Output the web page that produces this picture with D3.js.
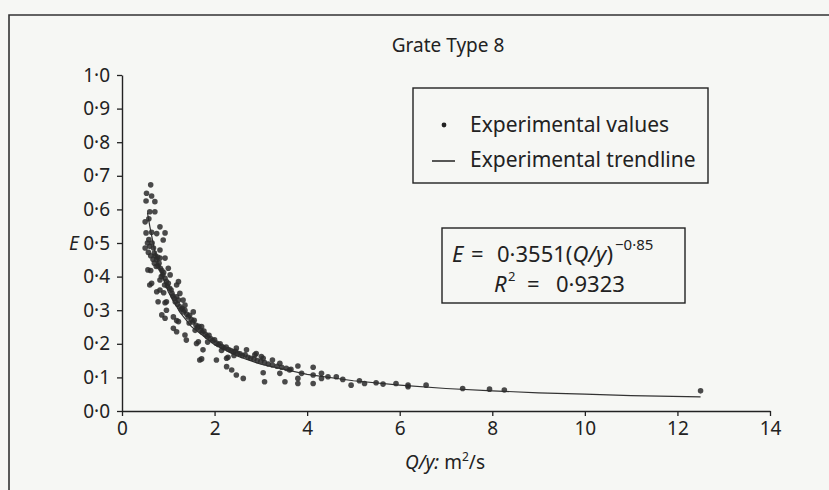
<!DOCTYPE html>
<html>
<head>
<meta charset="utf-8">
<script src="https://cdn.jsdelivr.net/npm/d3@7"></script>
<style>
  html, body { margin: 0; padding: 0; background: #f6f7f4; }
  svg { display: block; font-family: "Noto Sans", "Open Sans", sans-serif; }
</style>
</head>
<body>
<div id="chart"></div>
<script>
// Chart values
const chartTitle = "Grate Type 8";
const xTicks = [0, 2, 4, 6, 8, 10, 12, 14];
const yTicks = [0, 0.1, 0.2, 0.3, 0.4, 0.5, 0.6, 0.7, 0.8, 0.9, 1.0];

// Experimental values [Q/y, E]
const experimentalValues = [
  // upper cloud, Q/y < 1.05
  [0.62, 0.673], [0.53, 0.648], [0.64, 0.640], [0.71, 0.623], [0.52, 0.625],
  [0.60, 0.593], [0.71, 0.593], [0.50, 0.563], [0.58, 0.572], [0.82, 0.548],
  [0.52, 0.530], [0.64, 0.532], [0.75, 0.528], [0.93, 0.530], [0.89, 0.509],
  [0.50, 0.485], [0.82, 0.479], [0.57, 0.472], [0.62, 0.462], [0.67, 0.452],
  [0.93, 0.455], [0.78, 0.432], [1.00, 0.425], [0.56, 0.420], [0.62, 0.418],
  [1.04, 0.405], [0.82, 0.390], [0.60, 0.375], [0.64, 0.380], [0.75, 0.355],
  [0.90, 0.352], [0.78, 0.325], [0.82, 0.360], [0.96, 0.325], [0.86, 0.286],
  [0.93, 0.276], [0.82, 0.455], [0.55, 0.500], [0.58, 0.510], [0.60, 0.490],
  [0.93, 0.322],
  // dense band 0.6 - 1.3
  [0.65, 0.500], [0.68, 0.485], [0.70, 0.470], [0.72, 0.462], [0.75, 0.450],
  [0.77, 0.458], [0.80, 0.440], [0.83, 0.425], [0.86, 0.418], [0.88, 0.405],
  [0.90, 0.412], [0.93, 0.395], [0.96, 0.385], [0.98, 0.372], [1.00, 0.380],
  [1.03, 0.365], [1.06, 0.360], [1.08, 0.350], [1.10, 0.342], [1.13, 0.335],
  [1.15, 0.325], [1.18, 0.340], [1.20, 0.318], [1.22, 0.330], [1.25, 0.310],
  [1.28, 0.302], [0.70, 0.440], [0.74, 0.430], [0.85, 0.400], [0.92, 0.375],
  // scattered 1.0 - 2.7
  [1.18, 0.375], [1.25, 0.350], [1.32, 0.330], [1.11, 0.246], [1.18, 0.269],
  [1.22, 0.266], [1.18, 0.236], [1.36, 0.226], [1.39, 0.211], [1.61, 0.201],
  [1.65, 0.206], [1.75, 0.182], [1.68, 0.152], [1.72, 0.155], [2.04, 0.152],
  [2.26, 0.157], [2.29, 0.160], [2.26, 0.132], [2.37, 0.122], [2.47, 0.107],
  [2.62, 0.097], [1.22, 0.385], [1.36, 0.315], [1.54, 0.295], [1.72, 0.251],
  [1.11, 0.280], [0.96, 0.300],
  // dense band 1.3 - 3.7
  [1.30, 0.305], [1.33, 0.295], [1.36, 0.300], [1.40, 0.288], [1.43, 0.280],
  [1.46, 0.285], [1.50, 0.272], [1.53, 0.265], [1.56, 0.270], [1.60, 0.255],
  [1.63, 0.248], [1.66, 0.252], [1.70, 0.240], [1.73, 0.235], [1.77, 0.238],
  [1.80, 0.228], [1.84, 0.222], [1.88, 0.225], [1.92, 0.215], [1.96, 0.210],
  [2.00, 0.212], [2.04, 0.202], [2.08, 0.198], [2.12, 0.200], [2.16, 0.192],
  [2.20, 0.188], [2.25, 0.190], [2.30, 0.183], [2.35, 0.180], [2.40, 0.176],
  [2.45, 0.178], [2.50, 0.172], [2.55, 0.170], [2.60, 0.165], [2.66, 0.167],
  [2.72, 0.160], [2.78, 0.157], [2.85, 0.155], [2.92, 0.150], [3.00, 0.148],
  [3.08, 0.144], [3.16, 0.140], [3.25, 0.137], [3.35, 0.133], [3.45, 0.130],
  [3.55, 0.127], [3.65, 0.124], [1.45, 0.262], [1.58, 0.240], [1.85, 0.205],
  [2.15, 0.180], [2.42, 0.165],
  // around the band 2.4 - 4
  [2.87, 0.167], [3.01, 0.162], [2.47, 0.187], [2.69, 0.182], [2.90, 0.171],
  [3.05, 0.157], [3.25, 0.152], [3.05, 0.114], [3.08, 0.087], [3.41, 0.112],
  [3.52, 0.087], [3.80, 0.134], [3.80, 0.097], [3.80, 0.082], [3.62, 0.122],
  [3.41, 0.142],
  // tail
  [3.88, 0.112], [4.13, 0.130], [4.13, 0.107], [4.13, 0.082], [4.31, 0.112],
  [4.31, 0.097], [4.45, 0.102], [4.63, 0.102], [4.77, 0.094], [4.95, 0.077],
  [5.13, 0.090], [5.24, 0.082], [5.49, 0.084], [5.64, 0.080], [5.92, 0.082],
  [6.18, 0.077], [6.18, 0.072], [6.57, 0.077], [7.36, 0.067], [7.94, 0.065],
  [8.26, 0.0625], [12.5, 0.060]
];

// Experimental trendline
const trendQy = [0.55, 0.6, 0.7, 0.8, 1.0, 1.25, 1.5, 2, 2.5, 3, 4, 5, 6, 7, 8, 9, 10, 11, 12.5];
const trendE = [0.59, 0.55, 0.48, 0.43, 0.355, 0.294, 0.251, 0.197, 0.163, 0.139, 0.109, 0.090, 0.077, 0.067, 0.060, 0.054, 0.050, 0.046, 0.042];

const width = 829;
const height = 490;
const margin = { left: 122, right: 59, top: 75, bottom: 79 };
const ink = "#222";

const svg = d3.select("#chart").append("svg")
  .attr("width", width)
  .attr("height", height);

// frame of the figure
svg.append("path")
  .attr("d", "M9,490 L9,15 L829,15")
  .attr("fill", "none")
  .attr("stroke", "#333")
  .attr("stroke-width", 1.6);

const x = d3.scaleLinear().domain([0, 14]).range([margin.left, width - margin.right]);
const y = d3.scaleLinear().domain([0, 1]).range([height - margin.bottom, margin.top]);

const dotFmt = (v) => d3.format(".1f")(v).replace(".", "·");

// title
svg.append("text")
  .attr("x", 448).attr("y", 52)
  .attr("text-anchor", "middle")
  .attr("font-size", 19)
  .attr("fill", ink)
  .text(chartTitle);

// axes
const xAxis = svg.append("g")
  .attr("transform", `translate(0,${y(0)})`)
  .call(d3.axisBottom(x).tickValues(xTicks).tickSize(5).tickSizeOuter(0).tickPadding(6));

const yAxis = svg.append("g")
  .attr("transform", `translate(${x(0)},0)`)
  .call(d3.axisLeft(y).tickValues(yTicks).tickSize(5).tickSizeOuter(0).tickPadding(7).tickFormat(dotFmt));

[xAxis, yAxis].forEach((g) => {
  g.select(".domain").attr("stroke", ink).attr("stroke-width", 1.4);
  g.selectAll(".tick line").attr("stroke", ink).attr("stroke-width", 1.3);
  g.selectAll(".tick text")
    .attr("fill", ink)
    .attr("font-size", 19)
    .attr("font-family", "Noto Sans, sans-serif");
});

// axis titles
svg.append("text")
  .attr("x", 74).attr("y", y(0.5) + 7)
  .attr("text-anchor", "middle")
  .attr("font-size", 19)
  .attr("font-style", "italic")
  .attr("fill", ink)
  .text("E");

const xTitle = svg.append("text")
  .attr("x", 445).attr("y", 469)
  .attr("text-anchor", "middle")
  .attr("font-size", 19)
  .attr("fill", ink);
xTitle.append("tspan").attr("font-style", "italic").text("Q/y:");
xTitle.append("tspan").text(" m");
xTitle.append("tspan").attr("font-size", 12).attr("dy", -8).text("2");
xTitle.append("tspan").attr("dy", 8).text("/s");

// trendline
const line = d3.line()
  .x((d, i) => x(trendQy[i]))
  .y((d) => y(d));

svg.append("path")
  .datum(trendE)
  .attr("d", line)
  .attr("fill", "none")
  .attr("stroke", "#333")
  .attr("stroke-width", 1.2);

// experimental points
svg.append("g")
  .selectAll("circle")
  .data(experimentalValues)
  .join("circle")
  .attr("cx", (d) => x(d[0]))
  .attr("cy", (d) => y(d[1]))
  .attr("r", 2.8)
  .attr("fill", "#2b2b2b")
  .attr("fill-opacity", 0.85);

// legend
svg.append("rect")
  .attr("x", 413).attr("y", 88)
  .attr("width", 295).attr("height", 95)
  .attr("fill", "none")
  .attr("stroke", ink)
  .attr("stroke-width", 1.4);

svg.append("circle")
  .attr("cx", 444).attr("cy", 125)
  .attr("r", 2.4)
  .attr("fill", ink);

svg.append("line")
  .attr("x1", 432).attr("x2", 455)
  .attr("y1", 161).attr("y2", 161)
  .attr("stroke", ink)
  .attr("stroke-width", 1.5);

svg.append("text")
  .attr("x", 470).attr("y", 132)
  .attr("font-size", 21)
  .attr("fill", ink)
  .text("Experimental values");

svg.append("text")
  .attr("x", 470).attr("y", 167)
  .attr("font-size", 21)
  .attr("fill", ink)
  .text("Experimental trendline");

// equation box
svg.append("rect")
  .attr("x", 442).attr("y", 228)
  .attr("width", 243).attr("height", 75)
  .attr("fill", "none")
  .attr("stroke", ink)
  .attr("stroke-width", 1.4);

const eqFont = 22;
const eq1 = svg.append("text")
  .attr("y", 262)
  .attr("font-size", eqFont)
  .attr("fill", ink);
eq1.append("tspan").attr("x", 452).attr("font-style", "italic").text("E");
eq1.append("tspan").attr("x", 471).text("=");
eq1.append("tspan").attr("x", 497).text("0·3551(");
eq1.append("tspan").attr("font-style", "italic").text("Q/y");
eq1.append("tspan").text(")");
eq1.append("tspan").attr("dx", 2).attr("y", 250).attr("font-size", 15).text("\u22120·85");

const eq2 = svg.append("text")
  .attr("y", 292)
  .attr("font-size", eqFont)
  .attr("fill", ink);
eq2.append("tspan").attr("x", 494).attr("font-style", "italic").text("R");
eq2.append("tspan").attr("x", 508).attr("y", 281).attr("font-size", 13).text("2");
eq2.append("tspan").attr("x", 527).attr("y", 292).text("=");
eq2.append("tspan").attr("x", 556).text("0·9323");
</script>
</body>
</html>
